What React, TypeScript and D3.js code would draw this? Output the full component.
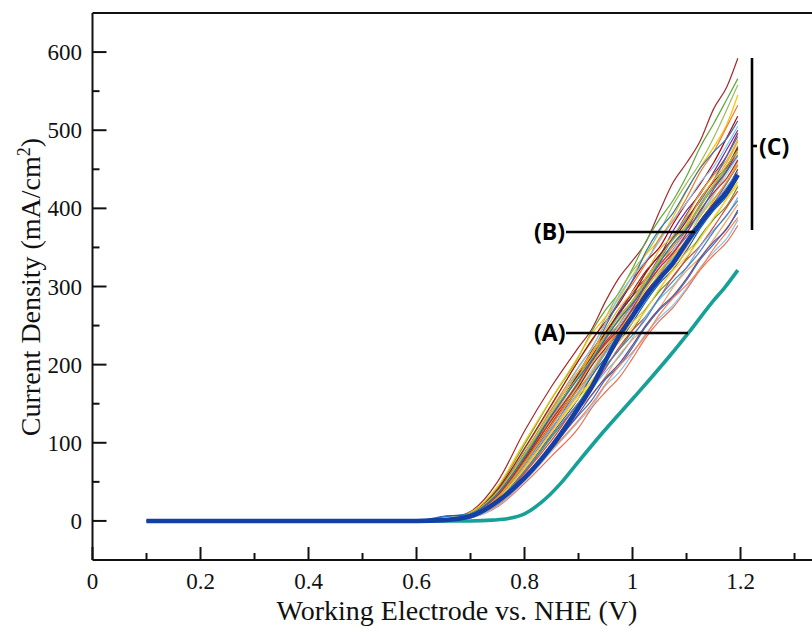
import React from 'react';
import * as d3 from 'd3';

const voltages = [0.1, 0.6, 0.65, 0.7, 0.75, 0.8, 0.85, 0.9, 0.925, 0.95, 0.975, 1.0, 1.025, 1.05, 1.075, 1.1, 1.125, 1.15, 1.175, 1.195];

const thinColors = [
  '#A52A2A', '#5FA83A', '#9BBB59', '#FFC000', '#ED7D31', '#C00000', '#2E75B6', '#7FC6EF',
  '#7030A0', '#9B2335', '#E8B923', '#4472C4', '#70AD47', '#F79646', '#D7263D', '#9DD3F2',
  '#B8C23A', '#8064A2', '#8B1E24', '#F5A142', '#1F5FA8', '#F0C419', '#4E9A2E', '#E8413C',
  '#6BB7E6', '#F4A460', '#F26B4F', '#3B6FB6', '#6A4C93', '#8CC8EA', '#8B1A1A', '#FF9F1C',
  '#92C84A', '#C62828', '#FFD23F', '#2A6EBB', '#4F81BD', '#FF7F50', '#5DADE2', '#F39C12',
];

const thinSeries = [
  [0, 0, 2, 12, 50, 115, 172, 222, 246, 281, 311, 333, 357, 396, 433, 458, 486, 527, 556, 592],
  [0, 0, 2, 10, 42, 98, 156, 210, 243, 270, 292, 323, 358, 386, 410, 441, 478, 508, 540, 566],
  [0, 0, 1, 9, 38, 91, 147, 206, 230, 260, 293, 320, 342, 370, 404, 432, 458, 490, 527, 558],
  [0, 0, 2, 11, 44, 101, 157, 211, 240, 261, 285, 314, 341, 360, 389, 422, 452, 478, 508, 545],
  [0, 0, 1, 8, 36, 86, 143, 197, 222, 253, 281, 303, 330, 362, 384, 413, 446, 472, 505, 532],
  [0, 0, 1, 9, 40, 93, 149, 205, 232, 255, 278, 307, 332, 350, 380, 407, 431, 458, 491, 518],
  [0, 0, 5, 10, 38, 87, 141, 191, 215, 249, 281, 308, 345, 373, 394, 423, 451, 472, 490, 512],
  [0, 0, 1, 8, 34, 83, 137, 196, 222, 254, 288, 313, 333, 358, 385, 407, 433, 453, 481, 505],
  [0, 0, 1, 7, 32, 79, 131, 187, 209, 237, 268, 292, 311, 338, 371, 397, 418, 446, 476, 500],
  [0, 0, 1, 8, 35, 85, 135, 189, 218, 241, 264, 294, 320, 340, 363, 392, 420, 443, 468, 496],
  [0, 0, 1, 9, 37, 86, 141, 191, 216, 245, 272, 293, 317, 347, 365, 390, 419, 442, 462, 488],
  [0, 0, 2, 9, 34, 81, 131, 185, 206, 235, 264, 288, 305, 333, 362, 387, 409, 436, 467, 492],
  [0, 0, 1, 7, 31, 76, 129, 179, 208, 233, 252, 280, 309, 332, 351, 376, 405, 430, 452, 480],
  [0, 0, 1, 8, 33, 81, 131, 183, 204, 231, 259, 282, 300, 324, 352, 374, 392, 418, 448, 472],
  [0, 0, 1, 7, 30, 74, 125, 175, 204, 229, 250, 276, 304, 328, 347, 373, 402, 427, 449, 476],
  [0, 0, 1, 6, 28, 73, 121, 173, 194, 221, 250, 274, 292, 318, 346, 370, 390, 416, 444, 466],
  [0, 0, 2, 10, 36, 80, 129, 175, 202, 225, 244, 270, 297, 320, 337, 360, 389, 412, 433, 460],
  [0, 0, 1, 6, 27, 69, 117, 169, 190, 217, 246, 270, 289, 314, 342, 364, 382, 406, 433, 455],
  [0, 0, 1, 7, 29, 72, 123, 171, 199, 221, 241, 266, 293, 314, 332, 356, 384, 406, 426, 450],
  [0, 0, 1, 6, 26, 66, 115, 163, 186, 215, 235, 260, 288, 310, 327, 350, 378, 400, 420, 446],
  [0, 0, 6, 8, 25, 64, 111, 157, 186, 209, 229, 254, 281, 304, 322, 346, 374, 397, 416, 440],
  [0, 0, 1, 7, 28, 69, 113, 161, 180, 205, 232, 254, 272, 296, 323, 344, 362, 386, 413, 434],
  [0, 0, 1, 6, 25, 62, 107, 151, 177, 199, 219, 244, 271, 294, 312, 336, 364, 386, 404, 428],
  [0, 0, 1, 6, 24, 61, 103, 151, 170, 195, 222, 244, 262, 286, 313, 334, 352, 376, 402, 422],
  [0, 0, 1, 5, 22, 56, 99, 143, 169, 191, 210, 234, 262, 284, 301, 324, 351, 372, 391, 414],
  [0, 0, 1, 5, 22, 57, 97, 143, 161, 185, 212, 232, 249, 272, 299, 320, 337, 360, 385, 405],
  [0, 0, 0, 4, 18, 48, 83, 119, 145, 165, 183, 208, 235, 256, 273, 296, 321, 340, 357, 378],
  [0, 0, 1, 5, 20, 52, 93, 135, 155, 181, 198, 222, 249, 270, 286, 308, 334, 354, 375, 395],
  [0, 0, 1, 5, 21, 54, 95, 137, 162, 183, 201, 225, 251, 272, 288, 310, 336, 357, 374, 398],
  [0, 0, 1, 4, 19, 50, 89, 127, 147, 173, 190, 214, 240, 260, 276, 298, 324, 344, 362, 385],
  [0, 0, 1, 8, 33, 80, 135, 187, 211, 241, 266, 288, 318, 340, 360, 384, 412, 434, 454, 478],
  [0, 0, 1, 8, 34, 82, 137, 185, 214, 237, 256, 282, 311, 334, 354, 380, 411, 436, 459, 486],
  [0, 0, 2, 9, 36, 84, 137, 185, 208, 237, 262, 282, 306, 336, 360, 378, 401, 430, 455, 474],
  [0, 0, 1, 8, 33, 78, 129, 177, 205, 227, 246, 272, 301, 324, 343, 368, 397, 420, 439, 462],
  [0, 0, 1, 6, 27, 66, 113, 157, 178, 205, 229, 248, 270, 298, 320, 338, 361, 388, 412, 430],
  [0, 0, 2, 9, 35, 82, 135, 183, 206, 233, 258, 278, 302, 330, 355, 373, 395, 424, 448, 468],
  [0, 0, 1, 6, 26, 64, 109, 151, 172, 197, 219, 238, 259, 286, 307, 324, 345, 370, 392, 410],
  [0, 0, 1, 5, 21, 52, 91, 129, 150, 175, 198, 216, 238, 264, 285, 302, 322, 348, 370, 388],
  [0, 0, 1, 7, 30, 72, 119, 165, 189, 215, 240, 260, 283, 312, 336, 354, 377, 404, 428, 446],
  [0, 0, 1, 7, 30, 74, 123, 169, 191, 219, 244, 264, 289, 316, 340, 358, 380, 410, 435, 456],
];

const blueSeries = [0, 0, 1, 6, 25, 55, 95, 145, 172, 205, 236, 262, 288, 310, 330, 356, 380, 402, 421, 443];

const tealVoltages = [0.1, 0.7, 0.74, 0.77, 0.8, 0.83, 0.867, 0.9, 0.941, 1.0, 1.033, 1.07, 1.104, 1.15, 1.17, 1.195];
const tealSeries = [0, 0, 1, 3, 9, 23, 48, 76, 110, 156, 182, 212, 241, 282, 298, 321];

const xMajor = [0, 0.2, 0.4, 0.6, 0.8, 1, 1.2];
const xMinor = [0.1, 0.3, 0.5, 0.7, 0.9, 1.1, 1.3];
const yMajor = [0, 100, 200, 300, 400, 500, 600];
const yMinor = [50, 150, 250, 350, 450, 550];

const W = 812;
const H = 630;
const L = 92.5;
const T = 13;
const B = 560;

export default function App() {
  const x = d3.scaleLinear().domain([0, 1.3333]).range([L, L + 720]);
  const y = d3.scaleLinear().domain([-50, 650]).range([B, T]);

  const lineGen = (vs: number[], data: number[]) =>
    d3
      .line<number>()
      .x((_, i) => x(vs[i]))
      .y((d) => y(d))
      .curve(d3.curveMonotoneX)(data) || '';

  const serif = '"Liberation Serif", "Times New Roman", serif';
  const sans = '"Open Sans", "Liberation Sans", sans-serif';

  return (
    <svg width={W} height={H} style={{ position: 'absolute', left: 0, top: 0, background: '#fff' }}>
      <rect x={0} y={0} width={W} height={H} fill="#fff" />
      <g fill="none" strokeWidth={1.2} strokeLinejoin="round">
        {thinSeries.map((s, i) => (
          <path key={i} d={lineGen(voltages, s)} stroke={thinColors[i % thinColors.length]} />
        ))}
      </g>
      <path d={lineGen(tealVoltages, tealSeries)} fill="none" stroke="#17A097" strokeWidth={3.6} strokeLinejoin="round" />
      <path d={lineGen(voltages, blueSeries)} fill="none" stroke="#1240A6" strokeWidth={4.6} strokeLinejoin="round" />

      <g stroke="#111" strokeWidth={2} fill="none">
        <line x1={L} y1={T} x2={W + 5} y2={T} />
        <line x1={L} y1={B} x2={W + 5} y2={B} />
        <line x1={L} y1={T} x2={L} y2={B} />
      </g>
      <g stroke="#111" strokeWidth={2}>
        {xMajor.map((v) => (
          <line key={'xM' + v} x1={x(v)} x2={x(v)} y1={B} y2={B - 13} />
        ))}
        {xMinor.map((v) => (
          <line key={'xm' + v} x1={x(v)} x2={x(v)} y1={B} y2={B - 7} />
        ))}
        {yMajor.map((v) => (
          <line key={'yM' + v} x1={L} x2={L + 14} y1={y(v)} y2={y(v)} />
        ))}
        {yMinor.map((v) => (
          <line key={'ym' + v} x1={L} x2={L + 7} y1={y(v)} y2={y(v)} />
        ))}
      </g>
      <g fontFamily={serif} fontSize={23} fill="#111">
        {xMajor.map((v) => (
          <text key={'xl' + v} x={x(v)} y={589} textAnchor="middle">
            {String(v)}
          </text>
        ))}
        {yMajor.map((v) => (
          <text key={'yl' + v} x={82} y={y(v) + 8} textAnchor="end">
            {String(v)}
          </text>
        ))}
      </g>
      <text x={457} y={620} textAnchor="middle" fontFamily={serif} fontSize={28} fill="#111">
        Working Electrode vs. NHE (V)
      </text>
      <text
        transform={`translate(40, 287) rotate(-90)`}
        textAnchor="middle"
        fontFamily={serif}
        fontSize={28}
        fill="#111"
      >
        Current Density (mA/cm<tspan dy={-10} fontSize={18}>2</tspan>
        <tspan dy={10}>)</tspan>
      </text>

      <g stroke="#000" strokeWidth={2.6}>
        <line x1={566} x2={695} y1={232} y2={232} />
        <line x1={566} x2={688} y1={333} y2={333} />
        <line x1={752} x2={752} y1={58} y2={230} />
        <line x1={752} x2={757} y1={146} y2={146} />
      </g>
      <g fontFamily={sans} fontWeight={700} fontSize={23} fill="#000">
        <text x={534} y={240}>(B)</text>
        <text x={534} y={341}>(A)</text>
        <text x={759} y={155}>(C)</text>
      </g>
    </svg>
  );
}
